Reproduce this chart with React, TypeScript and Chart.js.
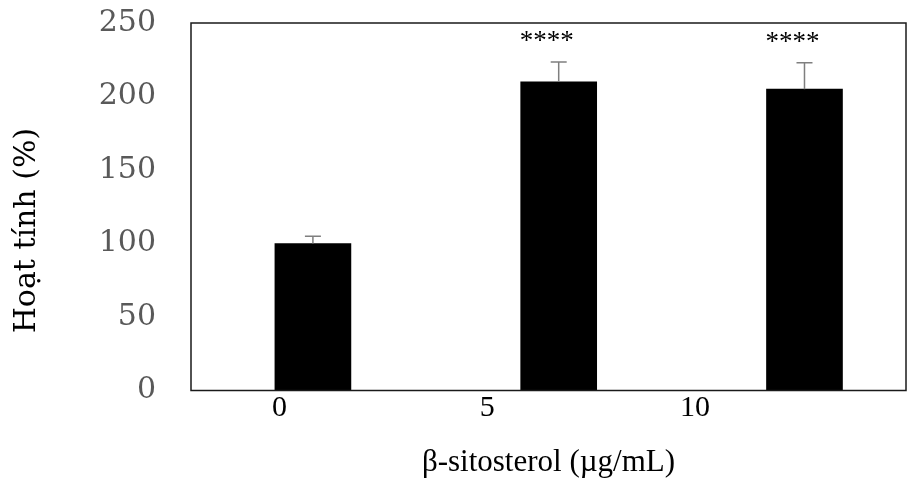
import React, { useEffect, useRef } from "react";
import { Chart, registerables } from "chart.js";

Chart.register(...registerables);

// ---- data ----
const categories = ["0", "5", "10"];
const doseTickValues = [0, 5, 10];
const meanActivity = [100, 210, 205];
const errorActivity = [5, 13.5, 18];
const significance = ["", "****", "****"];

const SERIF = "'Liberation Serif', 'Times New Roman', serif";
const WIDE_SERIF = "'DejaVu Serif', serif";

const errorBarsAndFrame = {
  id: "errorBarsAndFrame",
  afterDatasetsDraw(chart: any) {
    const { ctx, chartArea, scales } = chart;
    const yScale = scales.y;
    const meta = chart.getDatasetMeta(0);
    ctx.save();
    meta.data.forEach((bar: any, i: number) => {
      const x = bar.x;
      const yBar = yScale.getPixelForValue(meanActivity[i]);
      const yTop = yScale.getPixelForValue(meanActivity[i] + errorActivity[i]);
      ctx.strokeStyle = "#7f7f7f";
      ctx.lineWidth = 1.5;
      ctx.beginPath();
      ctx.moveTo(x, yBar);
      ctx.lineTo(x, yTop);
      ctx.moveTo(x - 8, yTop);
      ctx.lineTo(x + 8, yTop);
      ctx.stroke();
      if (significance[i]) {
        ctx.fillStyle = "#000";
        ctx.font = `27px ${SERIF}`;
        ctx.textAlign = "center";
        ctx.textBaseline = "middle";
        ctx.fillText(significance[i], x - 12, yTop - 20);
      }
    });
    ctx.strokeStyle = "#1a1a1a";
    ctx.lineWidth = 1.5;
    ctx.strokeRect(
      chartArea.left,
      chartArea.top,
      chartArea.right - chartArea.left,
      chartArea.bottom - chartArea.top
    );
    ctx.restore();
  },
};

export default function App() {
  const canvasRef = useRef<HTMLCanvasElement | null>(null);

  useEffect(() => {
    if (!canvasRef.current) return;
    const chart = new Chart(canvasRef.current, {
      type: "bar",
      data: {
        labels: categories,
        datasets: [
          {
            label: "Hoạt tính",
            data: meanActivity.map((v, i) => ({ x: i, y: v })),
            backgroundColor: "#000",
            borderWidth: 0,
            barThickness: 76,
            xAxisID: "x",
            yAxisID: "y",
          } as any,
        ],
      },
      options: {
        responsive: false,
        animation: false,
        devicePixelRatio: 1,
        layout: { padding: { top: 23, right: 9, bottom: 0, left: 0 } },
        plugins: {
          legend: { display: false },
          tooltip: { enabled: false },
        },
        scales: {
          x: {
            type: "linear",
            display: false,
            offset: false,
            min: -0.496,
            max: 2.413,
          },
          dose: {
            type: "linear",
            position: "bottom",
            offset: false,
            min: -2.127,
            max: 15.077,
            grid: { display: false, drawTicks: false, offset: false },
            border: { display: false },
            afterBuildTicks: (axis: any) => {
              axis.ticks = doseTickValues.map((v) => ({ value: v }));
            },
            ticks: {
              padding: 0,
              color: "#000",
              autoSkip: false,
              maxRotation: 0,
              font: { family: SERIF, size: 30 },
              callback: (_v: any, index: number) => categories[index] ?? "",
            },
            title: {
              display: true,
              text: "β-sitosterol (µg/mL)",
              color: "#000",
              font: { family: SERIF, size: 31 },
              padding: { top: 0, bottom: 3 },
            },
            afterFit: (s: any) => {
              s.height = 93.5;
              s.paddingLeft = 0;
              s.paddingRight = 0;
            },
          },
          y: {
            min: 0,
            max: 250,
            grid: { display: false, drawTicks: false },
            border: { display: false },
            ticks: {
              stepSize: 50,
              padding: 35,
              color: "#595959",
              font: { family: WIDE_SERIF, size: 30 },
            },
            title: {
              display: true,
              text: "Hoạt tính (%)     ",
              color: "#000",
              font: { family: WIDE_SERIF, size: 30 },
              padding: { top: 9, bottom: 0 },
            },
            afterFit: (s: any) => {
              s.width = 191;
              s.paddingTop = 0;
              s.paddingBottom = 0;
            },
          },
        } as any,
      },
      plugins: [errorBarsAndFrame],
    });
    return () => chart.destroy();
  }, []);

  return (
    <div style={{ position: "absolute", left: 0, top: 0, width: 915, height: 484, background: "#fff" }}>
      <canvas ref={canvasRef} width={915} height={484} style={{ display: "block" }} />
    </div>
  );
}
